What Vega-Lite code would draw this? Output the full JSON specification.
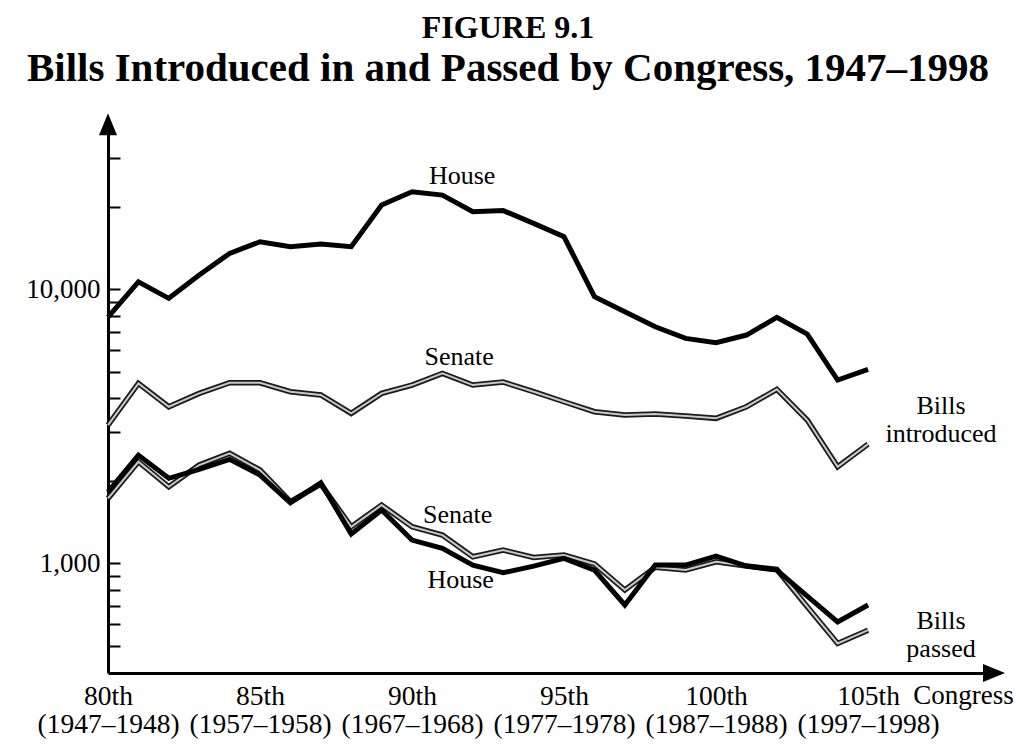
{
  "$schema": "https://vega.github.io/schema/vega-lite/v6.json",
  "width": 892,
  "height": 553,
  "autosize": "none",
  "padding": {"left": 108, "top": 120, "right": 16, "bottom": 71},
  "background": "white",
  "config": {"view": {"stroke": null}, "font": "Liberation Serif"},
  "title": {
    "text": "FIGURE 9.1",
    "subtitle": "Bills Introduced in and Passed by Congress, 1947–1998",
    "anchor": "middle",
    "dx": -46,
    "offset": 23,
    "font": "Liberation Serif",
    "fontSize": 32,
    "fontWeight": "bold",
    "color": "black",
    "subtitleFont": "Liberation Serif",
    "subtitleFontSize": 41,
    "subtitleFontWeight": "bold",
    "subtitleColor": "black",
    "subtitlePadding": 4
  },
  "datasets": {
    "bills": [
      {"congress": 80, "chamber": "House", "type": "introduced", "value": 7900},
      {"congress": 81, "chamber": "House", "type": "introduced", "value": 10630},
      {"congress": 82, "chamber": "House", "type": "introduced", "value": 9250},
      {"congress": 83, "chamber": "House", "type": "introduced", "value": 11250},
      {"congress": 84, "chamber": "House", "type": "introduced", "value": 13500},
      {"congress": 85, "chamber": "House", "type": "introduced", "value": 14880},
      {"congress": 86, "chamber": "House", "type": "introduced", "value": 14270},
      {"congress": 87, "chamber": "House", "type": "introduced", "value": 14590},
      {"congress": 88, "chamber": "House", "type": "introduced", "value": 14270},
      {"congress": 89, "chamber": "House", "type": "introduced", "value": 20260},
      {"congress": 90, "chamber": "House", "type": "introduced", "value": 22650},
      {"congress": 91, "chamber": "House", "type": "introduced", "value": 22030},
      {"congress": 92, "chamber": "House", "type": "introduced", "value": 19150},
      {"congress": 93, "chamber": "House", "type": "introduced", "value": 19340},
      {"congress": 94, "chamber": "House", "type": "introduced", "value": 17370},
      {"congress": 95, "chamber": "House", "type": "introduced", "value": 15520},
      {"congress": 96, "chamber": "House", "type": "introduced", "value": 9375},
      {"congress": 97, "chamber": "House", "type": "introduced", "value": 8265},
      {"congress": 98, "chamber": "House", "type": "introduced", "value": 7285},
      {"congress": 99, "chamber": "House", "type": "introduced", "value": 6607},
      {"congress": 100, "chamber": "House", "type": "introduced", "value": 6368},
      {"congress": 101, "chamber": "House", "type": "introduced", "value": 6795},
      {"congress": 102, "chamber": "House", "type": "introduced", "value": 7880},
      {"congress": 103, "chamber": "House", "type": "introduced", "value": 6850},
      {"congress": 104, "chamber": "House", "type": "introduced", "value": 4655},
      {"congress": 105, "chamber": "House", "type": "introduced", "value": 5090},
      {"congress": 80, "chamber": "Senate", "type": "introduced", "value": 3189},
      {"congress": 81, "chamber": "Senate", "type": "introduced", "value": 4527},
      {"congress": 82, "chamber": "Senate", "type": "introduced", "value": 3720},
      {"congress": 83, "chamber": "Senate", "type": "introduced", "value": 4161},
      {"congress": 84, "chamber": "Senate", "type": "introduced", "value": 4550},
      {"congress": 85, "chamber": "Senate", "type": "introduced", "value": 4550},
      {"congress": 86, "chamber": "Senate", "type": "introduced", "value": 4220},
      {"congress": 87, "chamber": "Senate", "type": "introduced", "value": 4105},
      {"congress": 88, "chamber": "Senate", "type": "introduced", "value": 3518},
      {"congress": 89, "chamber": "Senate", "type": "introduced", "value": 4161},
      {"congress": 90, "chamber": "Senate", "type": "introduced", "value": 4463},
      {"congress": 91, "chamber": "Senate", "type": "introduced", "value": 4923},
      {"congress": 92, "chamber": "Senate", "type": "introduced", "value": 4463},
      {"congress": 93, "chamber": "Senate", "type": "introduced", "value": 4577},
      {"congress": 94, "chamber": "Senate", "type": "introduced", "value": 4220},
      {"congress": 95, "chamber": "Senate", "type": "introduced", "value": 3879},
      {"congress": 96, "chamber": "Senate", "type": "introduced", "value": 3567},
      {"congress": 97, "chamber": "Senate", "type": "introduced", "value": 3469},
      {"congress": 98, "chamber": "Senate", "type": "introduced", "value": 3498},
      {"congress": 99, "chamber": "Senate", "type": "introduced", "value": 3440},
      {"congress": 100, "chamber": "Senate", "type": "introduced", "value": 3374},
      {"congress": 101, "chamber": "Senate", "type": "introduced", "value": 3720},
      {"congress": 102, "chamber": "Senate", "type": "introduced", "value": 4305},
      {"congress": 103, "chamber": "Senate", "type": "introduced", "value": 3326},
      {"congress": 104, "chamber": "Senate", "type": "introduced", "value": 2246},
      {"congress": 105, "chamber": "Senate", "type": "introduced", "value": 2718},
      {"congress": 80, "chamber": "House", "type": "passed", "value": 1820},
      {"congress": 81, "chamber": "House", "type": "passed", "value": 2478},
      {"congress": 82, "chamber": "House", "type": "passed", "value": 2038},
      {"congress": 83, "chamber": "House", "type": "passed", "value": 2198},
      {"congress": 84, "chamber": "House", "type": "passed", "value": 2390},
      {"congress": 85, "chamber": "House", "type": "passed", "value": 2095},
      {"congress": 86, "chamber": "House", "type": "passed", "value": 1660},
      {"congress": 87, "chamber": "House", "type": "passed", "value": 1964},
      {"congress": 88, "chamber": "House", "type": "passed", "value": 1276},
      {"congress": 89, "chamber": "House", "type": "passed", "value": 1561},
      {"congress": 90, "chamber": "House", "type": "passed", "value": 1213},
      {"congress": 91, "chamber": "House", "type": "passed", "value": 1131},
      {"congress": 92, "chamber": "House", "type": "passed", "value": 983},
      {"congress": 93, "chamber": "House", "type": "passed", "value": 922},
      {"congress": 94, "chamber": "House", "type": "passed", "value": 975},
      {"congress": 95, "chamber": "House", "type": "passed", "value": 1040},
      {"congress": 96, "chamber": "House", "type": "passed", "value": 943},
      {"congress": 97, "chamber": "House", "type": "passed", "value": 703},
      {"congress": 98, "chamber": "House", "type": "passed", "value": 983},
      {"congress": 99, "chamber": "House", "type": "passed", "value": 983},
      {"congress": 100, "chamber": "House", "type": "passed", "value": 1060},
      {"congress": 101, "chamber": "House", "type": "passed", "value": 975},
      {"congress": 102, "chamber": "House", "type": "passed", "value": 943},
      {"congress": 103, "chamber": "House", "type": "passed", "value": 758},
      {"congress": 104, "chamber": "House", "type": "passed", "value": 610},
      {"congress": 105, "chamber": "House", "type": "passed", "value": 703},
      {"congress": 80, "chamber": "Senate", "type": "passed", "value": 1722},
      {"congress": 81, "chamber": "Senate", "type": "passed", "value": 2343},
      {"congress": 82, "chamber": "Senate", "type": "passed", "value": 1899},
      {"congress": 83, "chamber": "Senate", "type": "passed", "value": 2279},
      {"congress": 84, "chamber": "Senate", "type": "passed", "value": 2514},
      {"congress": 85, "chamber": "Senate", "type": "passed", "value": 2185},
      {"congress": 86, "chamber": "Senate", "type": "passed", "value": 1674},
      {"congress": 87, "chamber": "Senate", "type": "passed", "value": 1940},
      {"congress": 88, "chamber": "Senate", "type": "passed", "value": 1357},
      {"congress": 89, "chamber": "Senate", "type": "passed", "value": 1628},
      {"congress": 90, "chamber": "Senate", "type": "passed", "value": 1357},
      {"congress": 91, "chamber": "Senate", "type": "passed", "value": 1265},
      {"congress": 92, "chamber": "Senate", "type": "passed", "value": 1054},
      {"congress": 93, "chamber": "Senate", "type": "passed", "value": 1115},
      {"congress": 94, "chamber": "Senate", "type": "passed", "value": 1049},
      {"congress": 95, "chamber": "Senate", "type": "passed", "value": 1070},
      {"congress": 96, "chamber": "Senate", "type": "passed", "value": 992},
      {"congress": 97, "chamber": "Senate", "type": "passed", "value": 797},
      {"congress": 98, "chamber": "Senate", "type": "passed", "value": 965},
      {"congress": 99, "chamber": "Senate", "type": "passed", "value": 943},
      {"congress": 100, "chamber": "Senate", "type": "passed", "value": 1011},
      {"congress": 101, "chamber": "Senate", "type": "passed", "value": 975},
      {"congress": 102, "chamber": "Senate", "type": "passed", "value": 948},
      {"congress": 103, "chamber": "Senate", "type": "passed", "value": 693},
      {"congress": 104, "chamber": "Senate", "type": "passed", "value": 509},
      {"congress": 105, "chamber": "Senate", "type": "passed", "value": 569}
    ],
    "labels": [
      {"congress": 91.65, "value": 25880, "text": "House"},
      {"congress": 91.55, "value": 5645, "text": "Senate"},
      {"congress": 91.5, "value": 1497, "text": "Senate"},
      {"congress": 91.6, "value": 867, "text": "House"},
      {"congress": 107.4, "value": 3740, "text": "Bills|introduced"},
      {"congress": 107.4, "value": 614, "text": "Bills|passed"}
    ],
    "xticks": [
      {"congress": 81, "major": 0}, {"congress": 82, "major": 0}, {"congress": 83, "major": 0},
      {"congress": 84, "major": 0}, {"congress": 85, "major": 1}, {"congress": 86, "major": 0},
      {"congress": 87, "major": 0}, {"congress": 88, "major": 0}, {"congress": 89, "major": 0},
      {"congress": 90, "major": 1}, {"congress": 91, "major": 0}, {"congress": 92, "major": 0},
      {"congress": 93, "major": 0}, {"congress": 94, "major": 0}, {"congress": 95, "major": 1},
      {"congress": 96, "major": 0}, {"congress": 97, "major": 0}, {"congress": 98, "major": 0},
      {"congress": 99, "major": 0}, {"congress": 100, "major": 1}, {"congress": 101, "major": 0},
      {"congress": 102, "major": 0}, {"congress": 103, "major": 0}, {"congress": 104, "major": 0},
      {"congress": 105, "major": 1}
    ]
  },
  "encoding": {
    "x": {
      "field": "congress", "type": "quantitative",
      "scale": {"domain": [80, 109.34], "nice": false, "zero": false},
      "axis": {
        "values": [80,81,82,83,84,85,86,87,88,89,90,91,92,93,94,95,96,97,98,99,100,101,102,103,104,105],
        "domainColor": "black", "domainWidth": 3,
        "ticks": false,
        "labelExpr": "datum.value % 5 === 0 ? [datum.value + 'th', '(' + (1947 + (datum.value - 80) * 2) + '–' + (1948 + (datum.value - 80) * 2) + ')'] : ''",
        "labelFont": "Liberation Serif", "labelFontSize": 27.5, "labelColor": "black",
        "labelPadding": 9, "labelLineHeight": 28, "labelFlush": false, "labelOverlap": false,
        "labelBaseline": "top", "labelBound": false,
        "grid": false,
        "title": "Congress", "titleFont": "Liberation Serif", "titleFontSize": 27, "titleFontWeight": "normal",
        "titleColor": "black", "titleX": 855, "titleY": 22, "titleAlign": "center", "titleBaseline": "middle"
      }
    },
    "y": {
      "field": "value", "type": "quantitative",
      "scale": {"type": "log", "domain": [397, 41400], "nice": false},
      "axis": {
        "values": [500,600,700,800,900,1000,2000,3000,4000,5000,6000,7000,8000,9000,10000,20000,30000],
        "domainColor": "black", "domainWidth": 3,
        "tickColor": "black", "tickWidth": 2, "tickSize": -12,
        "labelExpr": "datum.value === 1000 ? '1,000' : datum.value === 10000 ? '10,000' : ''",
        "labelFont": "Liberation Serif", "labelFontSize": 27, "labelColor": "black",
        "labelPadding": 20, "labelOverlap": false, "labelFlush": false,
        "grid": false, "title": null
      }
    }
  },
  "layer": [
    {
      "data": {"name": "xticks"},
      "transform": [{"filter": "datum.major === 0"}],
      "mark": {"type": "rule", "color": "black", "strokeWidth": 2.5},
      "encoding": {
        "y": {"datum": 397, "type": "quantitative"},
        "y2": {"datum": 438}
      }
    },
    {
      "data": {"name": "xticks"},
      "transform": [{"filter": "datum.major === 1"}],
      "mark": {"type": "rule", "color": "black", "strokeWidth": 2.5},
      "encoding": {
        "y": {"datum": 397, "type": "quantitative"},
        "y2": {"datum": 466}
      }
    },
    {
      "data": {"name": "bills"},
      "transform": [{"filter": "datum.chamber === 'Senate'"}],
      "mark": {"type": "line", "color": "#1a1a1a", "strokeWidth": 5.5, "strokeJoin": "miter", "strokeCap": "butt"},
      "encoding": {"detail": {"field": "type"}}
    },
    {
      "data": {"name": "bills"},
      "transform": [{"filter": "datum.chamber === 'Senate'"}],
      "mark": {"type": "line", "color": "#c8c8c8", "strokeWidth": 2, "strokeJoin": "miter", "strokeCap": "butt"},
      "encoding": {"detail": {"field": "type"}}
    },
    {
      "data": {"name": "bills"},
      "transform": [{"filter": "datum.chamber === 'House'"}],
      "mark": {"type": "line", "color": "black", "strokeWidth": 5, "strokeJoin": "miter", "strokeCap": "butt"},
      "encoding": {"detail": {"field": "type"}}
    },
    {
      "data": {"name": "labels"},
      "transform": [{"calculate": "split(datum.text, '|')", "as": "lines"}],
      "mark": {"type": "text", "font": "Liberation Serif", "fontSize": 26, "color": "black", "align": "center", "baseline": "middle", "lineHeight": 28},
      "encoding": {"text": {"field": "lines"}}
    },
    {
      "data": {"values": [{"congress": 80, "value": 39600}]},
      "mark": {"type": "point", "shape": "M0,-1.2L0.9,1L-0.9,1Z", "size": 400, "filled": true, "color": "black", "opacity": 1},
      "encoding": {}
    },
    {
      "data": {"values": [{"congress": 109.11, "value": 397}]},
      "mark": {"type": "point", "shape": "M1.2,0L-1,0.9L-1,-0.9Z", "size": 400, "filled": true, "color": "black", "opacity": 1},
      "encoding": {}
    }
  ]
}
